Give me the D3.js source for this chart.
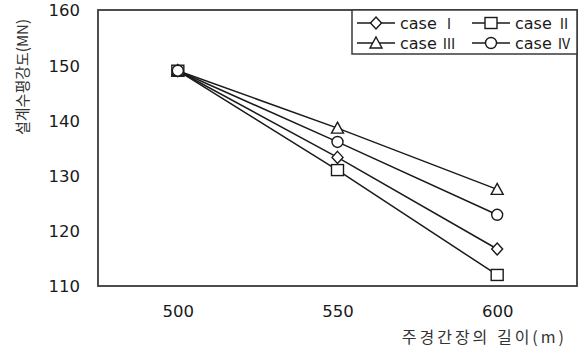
<!DOCTYPE html>
<html><head><meta charset="utf-8">
<script src="https://cdn.jsdelivr.net/npm/d3@7"></script>
<style>body{margin:0;background:#fff}svg{display:block}</style>
</head><body>
<script>
const xValues = [500, 550, 600];
const caseI   = [149, 133.3, 116.7];
const caseII  = [149, 131.0, 112.0];
const caseIII = [149, 138.6, 127.5];
const caseIV  = [149, 136.1, 122.9];
const seriesNames = ["case Ⅰ", "case Ⅱ", "case Ⅲ", "case Ⅳ"];
const seriesShapes = ["diamond", "square", "triangle", "circle"];
const yTicks = [110, 120, 130, 140, 150, 160];
const xTicks = [500, 550, 600];
const xTitle = "주경간장의 길이(m)";
const yTitle = "설계수평강도(MN)";

const series = [caseI, caseII, caseIII, caseIV].map((v, i) => ({name: seriesNames[i], shape: seriesShapes[i], values: v}));

const W = 583, H = 353;
const m = {l: 98, t: 10, r: 6, b: 67};
const svg = d3.select("body").append("svg").attr("width", W).attr("height", H);
const x = d3.scaleLinear().domain([475, 625]).range([m.l, W - m.r]);
const y = d3.scaleLinear().domain([110, 160]).range([H - m.b, m.t]);
const font = "'DejaVu Sans', sans-serif";
const cjk = "'Noto Sans CJK KR', sans-serif";
const ink = "#1a1a1a";

// axes (labels only)
const yAxis = svg.append("g").attr("transform", `translate(${m.l},0)`)
  .call(d3.axisLeft(y).tickValues(yTicks).tickSize(0).tickPadding(18).tickFormat(d3.format("d")));
yAxis.select(".domain").remove();
yAxis.selectAll("text").attr("font-family", font).attr("font-size", 16.5).attr("fill", ink).attr("dy", "0.36em");

const xAxis = svg.append("g").attr("transform", `translate(0,${H - m.b})`)
  .call(d3.axisBottom(x).tickValues(xTicks).tickSize(0).tickPadding(19).tickFormat(d3.format("d")));
xAxis.select(".domain").remove();
xAxis.selectAll("text").attr("font-family", font).attr("font-size", 16.5).attr("fill", ink);

// frame
svg.append("rect").attr("x", m.l).attr("y", m.t).attr("width", W - m.r - m.l).attr("height", H - m.b - m.t)
  .attr("fill", "none").attr("stroke", "#3a3a3a").attr("stroke-width", 1.8);

// titles
svg.append("text").attr("x", 567).attr("y", 343).attr("text-anchor", "end")
  .attr("font-family", cjk).attr("font-size", 16).attr("letter-spacing", 3).attr("fill", "#333").text(xTitle);
svg.append("text").attr("transform", "translate(28,77) rotate(-90)").attr("text-anchor", "middle")
  .attr("font-family", cjk).attr("font-size", 15).attr("fill", "#333").text(yTitle);

function drawMarker(g, shape, cx, cy) {
  const st = {fill: "#fff", stroke: ink, "stroke-width": 1.4};
  let el;
  if (shape === "circle") el = g.append("circle").attr("cx", cx).attr("cy", cy).attr("r", 5.5);
  else if (shape === "square") el = g.append("rect").attr("x", cx - 6).attr("y", cy - 5.5).attr("width", 12).attr("height", 11);
  else if (shape === "triangle") el = g.append("path").attr("d", `M${cx},${cy - 6}L${cx + 6},${cy + 5}L${cx - 6},${cy + 5}Z`);
  else el = g.append("path").attr("d", `M${cx},${cy - 6}L${cx + 5.5},${cy}L${cx},${cy + 6}L${cx - 5.5},${cy}Z`);
  Object.entries(st).forEach(([k, v]) => el.attr(k, v));
}

const line = d3.line().x((d, i) => x(xValues[i])).y(d => y(d));
const plot = svg.append("g");
series.forEach(s => {
  plot.append("path").attr("d", line(s.values)).attr("fill", "none").attr("stroke", ink).attr("stroke-width", 1.5);
});
series.forEach(s => {
  s.values.forEach((v, i) => drawMarker(plot, s.shape, x(xValues[i]), y(v)));
});

// legend
const lg = svg.append("g");
lg.append("rect").attr("x", 352).attr("y", m.t).attr("width", W - m.r - 352).attr("height", 44)
  .attr("fill", "#fff").attr("stroke", "#3a3a3a").attr("stroke-width", 1.5);
const cols = [357, 472], rows = [23, 43];
series.forEach((s, i) => {
  const cx = cols[i % 2], cy = rows[Math.floor(i / 2)];
  lg.append("line").attr("x1", cx).attr("x2", cx + 38).attr("y1", cy).attr("y2", cy).attr("stroke", ink).attr("stroke-width", 1.4);
  drawMarker(lg, s.shape, cx + 19, cy);
  const parts = s.name.split(" ");
  const t = lg.append("text").attr("x", cx + 43).attr("y", cy).attr("dy", "0.36em")
    .attr("font-family", font).attr("font-size", 16).attr("fill", ink);
  t.append("tspan").text(parts[0] + " ");
  t.append("tspan").attr("font-family", cjk).attr("font-size", 14).text(parts[1]);
});
</script>
</body></html>
